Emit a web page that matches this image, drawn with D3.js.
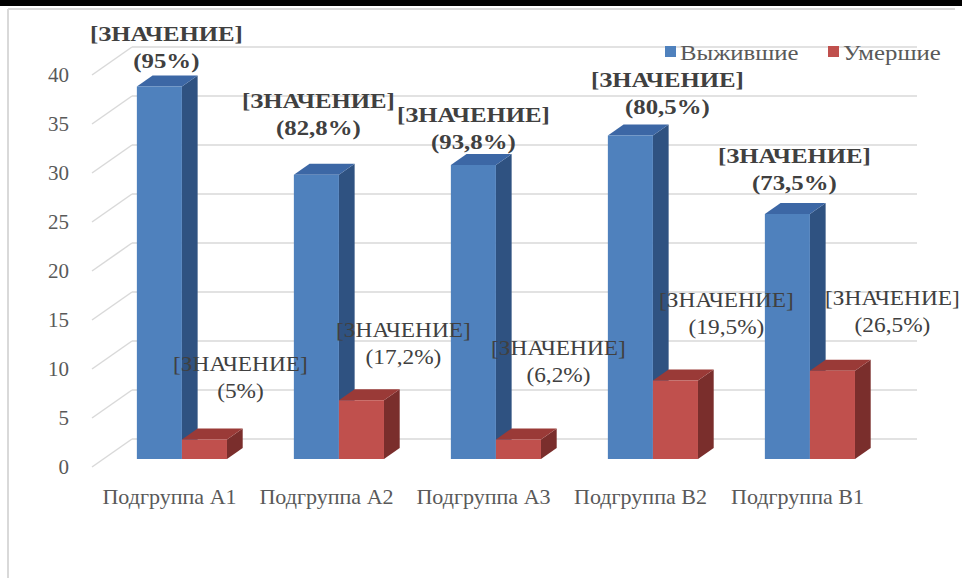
<!DOCTYPE html>
<html>
<head>
<meta charset="utf-8">
<script src="https://cdn.jsdelivr.net/npm/d3@7/dist/d3.min.js"></script>
<style>
  html, body { margin: 0; padding: 0; background: #fff; }
  svg text { font-family: "Liberation Serif", "Times New Roman", serif; }
</style>
</head>
<body>
<svg id="chart" width="962" height="578"></svg>
<script>
// ---- data ----
const categories = ["Подгруппа А1", "Подгруппа А2", "Подгруппа А3", "Подгруппа В2", "Подгруппа В1"];
const seriesNames = ["Выжившие", "Умершие"];
const survivors = [38, 29, 30, 33, 25];
const deceased = [2, 6, 2, 8, 9];
const survivorPct = ["(95%)", "(82,8%)", "(93,8%)", "(80,5%)", "(73,5%)"];
const deceasedPct = ["(5%)", "(17,2%)", "(6,2%)", "(19,5%)", "(26,5%)"];
const yTicks = [0, 5, 10, 15, 20, 25, 30, 35, 40];
const valueLabel = "[ЗНАЧЕНИЕ]";

// ---- layout (label nudges relative to bar front top-centre) ----
const survivorLabelNudge = [[7, -26], [2, -47], [0, -23], [37, -29], [7, -31]];
const deceasedLabelNudge = [[36, -48], [42, -43], [40, -64], [51, -54], [60, -46]];

const svg = d3.select("#chart");
const W = 962, H = 578;

// stretch text horizontally to mimic the wide rendering of the original
function stretch(sel, k) {
  sel.each(function () {
    const w = this.getComputedTextLength();
    d3.select(this).attr("textLength", w * k).attr("lengthAdjust", "spacingAndGlyphs");
  });
}

// frame
svg.append("rect").attr("x", 0).attr("y", 0).attr("width", W).attr("height", 6).attr("fill", "#000");
svg.append("line").attr("x1", 8).attr("x2", 955).attr("y1", 9).attr("y2", 9).attr("stroke", "#d9d9d9").attr("stroke-width", 2);
svg.append("line").attr("x1", 8).attr("x2", 8).attr("y1", 9).attr("y2", H).attr("stroke", "#d9d9d9").attr("stroke-width", 2);

// 3D projection: back-wall plane coords + depth d (0 = back wall, 1 = front)
const depthDX = -40, depthDY = 28;
const x = d3.scaleBand().domain(categories).range([132, 917]).padding(0);
const y = d3.scaleLinear().domain([0, 40]).range([439, 47]);
const barW = x.step() * 0.287;
const xs = d3.scaleBand().domain(seriesNames).range([x.step() / 2 - barW, x.step() / 2 + barW]).padding(0);
const P = (px, v, d) => [px + depthDX * d, y(v) + depthDY * d];

const dFront = 20 / 28, dBack = 9 / 28;

// gridlines: back wall + side wall diagonals
const grid = svg.append("g");
yTicks.forEach(t => {
  const [bx, by] = P(x.range()[0], t, 0);
  const [fx, fy] = P(x.range()[0], t, 1);
  grid.append("line").attr("x1", fx).attr("y1", fy).attr("x2", bx).attr("y2", by)
    .attr("stroke", "#d9d9d9").attr("stroke-width", 1.5);
  grid.append("line").attr("x1", bx).attr("y1", by).attr("x2", x.range()[1]).attr("y2", by)
    .attr("stroke", "#d9d9d9").attr("stroke-width", 1.5);
});

// y tick labels
svg.append("g").selectAll("text").data(yTicks).join("text")
  .attr("x", 69)
  .attr("y", d => P(0, d, 1)[1] + 7)
  .attr("text-anchor", "end")
  .attr("font-size", 21)
  .attr("fill", "#595959")
  .text(d => d);

// category labels
svg.append("g").selectAll("text").data(categories).join("text")
  .attr("x", d => P(x(d) + x.step() / 2, 0, 1)[0] - 1)
  .attr("y", 504)
  .attr("text-anchor", "middle")
  .attr("font-size", 21)
  .attr("fill", "#595959")
  .text(d => d)
  .call(stretch, 1.05);

const colors = {
  "Выжившие": { front: "#4f81bd", top: "#3c67a5", side: "#2f5281" },
  "Умершие": { front: "#c0504d", top: "#9a3a37", side: "#7a2e2c" }
};

const bars = svg.append("g");
const poly = pts => pts.map(p => p.join(",")).join(" ");
function drawBar(cat, s, v) {
  const x0 = x(cat) + xs(s), x1 = x0 + xs.bandwidth();
  const c = colors[s];
  const fTL = P(x0, v, dFront), fTR = P(x1, v, dFront), fBR = P(x1, 0, dFront), fBL = P(x0, 0, dFront);
  const bTL = P(x0, v, dBack), bTR = P(x1, v, dBack), bBR = P(x1, 0, dBack);
  bars.append("polygon").attr("points", poly([fTR, bTR, bBR, fBR])).attr("fill", c.side);
  bars.append("polygon").attr("points", poly([fTL, bTL, bTR, fTR])).attr("fill", c.top);
  bars.append("polygon").attr("points", poly([fTL, fTR, fBR, fBL])).attr("fill", c.front);
}
categories.forEach((cat, i) => {
  drawBar(cat, seriesNames[0], survivors[i]);
  drawBar(cat, seriesNames[1], deceased[i]);
});

// data labels
const labels = svg.append("g").attr("fill", "#404040").attr("text-anchor", "middle");
function addLabel(cat, s, v, pct, nudge, weight, size, k) {
  const x0 = x(cat) + xs(s), x1 = x0 + xs.bandwidth();
  const [cx, cy] = P((x0 + x1) / 2, v, dFront);
  const lx = cx + nudge[0], ly = cy + nudge[1];
  labels.append("text").attr("x", lx).attr("y", ly - 27 + 7)
    .attr("font-size", size).attr("font-weight", weight).text(valueLabel).call(stretch, k);
  labels.append("text").attr("x", lx).attr("y", ly + 7)
    .attr("font-size", size).attr("font-weight", weight).text(pct).call(stretch, k);
}
categories.forEach((cat, i) => {
  addLabel(cat, seriesNames[0], survivors[i], survivorPct[i], survivorLabelNudge[i], "bold", 21, 1.18);
  addLabel(cat, seriesNames[1], deceased[i], deceasedPct[i], deceasedLabelNudge[i], "normal", 22, 1.06);
});

// legend
const legend = svg.append("g");
const legendX = [665, 828];
seriesNames.forEach((s, i) => {
  legend.append("rect").attr("x", legendX[i]).attr("y", 46).attr("width", 11).attr("height", 11).attr("fill", colors[s].front);
  legend.append("text").attr("x", legendX[i] + 15).attr("y", 60)
    .attr("font-size", 21).attr("fill", "#595959").text(s).call(stretch, 1.18);
});
</script>
</body>
</html>
